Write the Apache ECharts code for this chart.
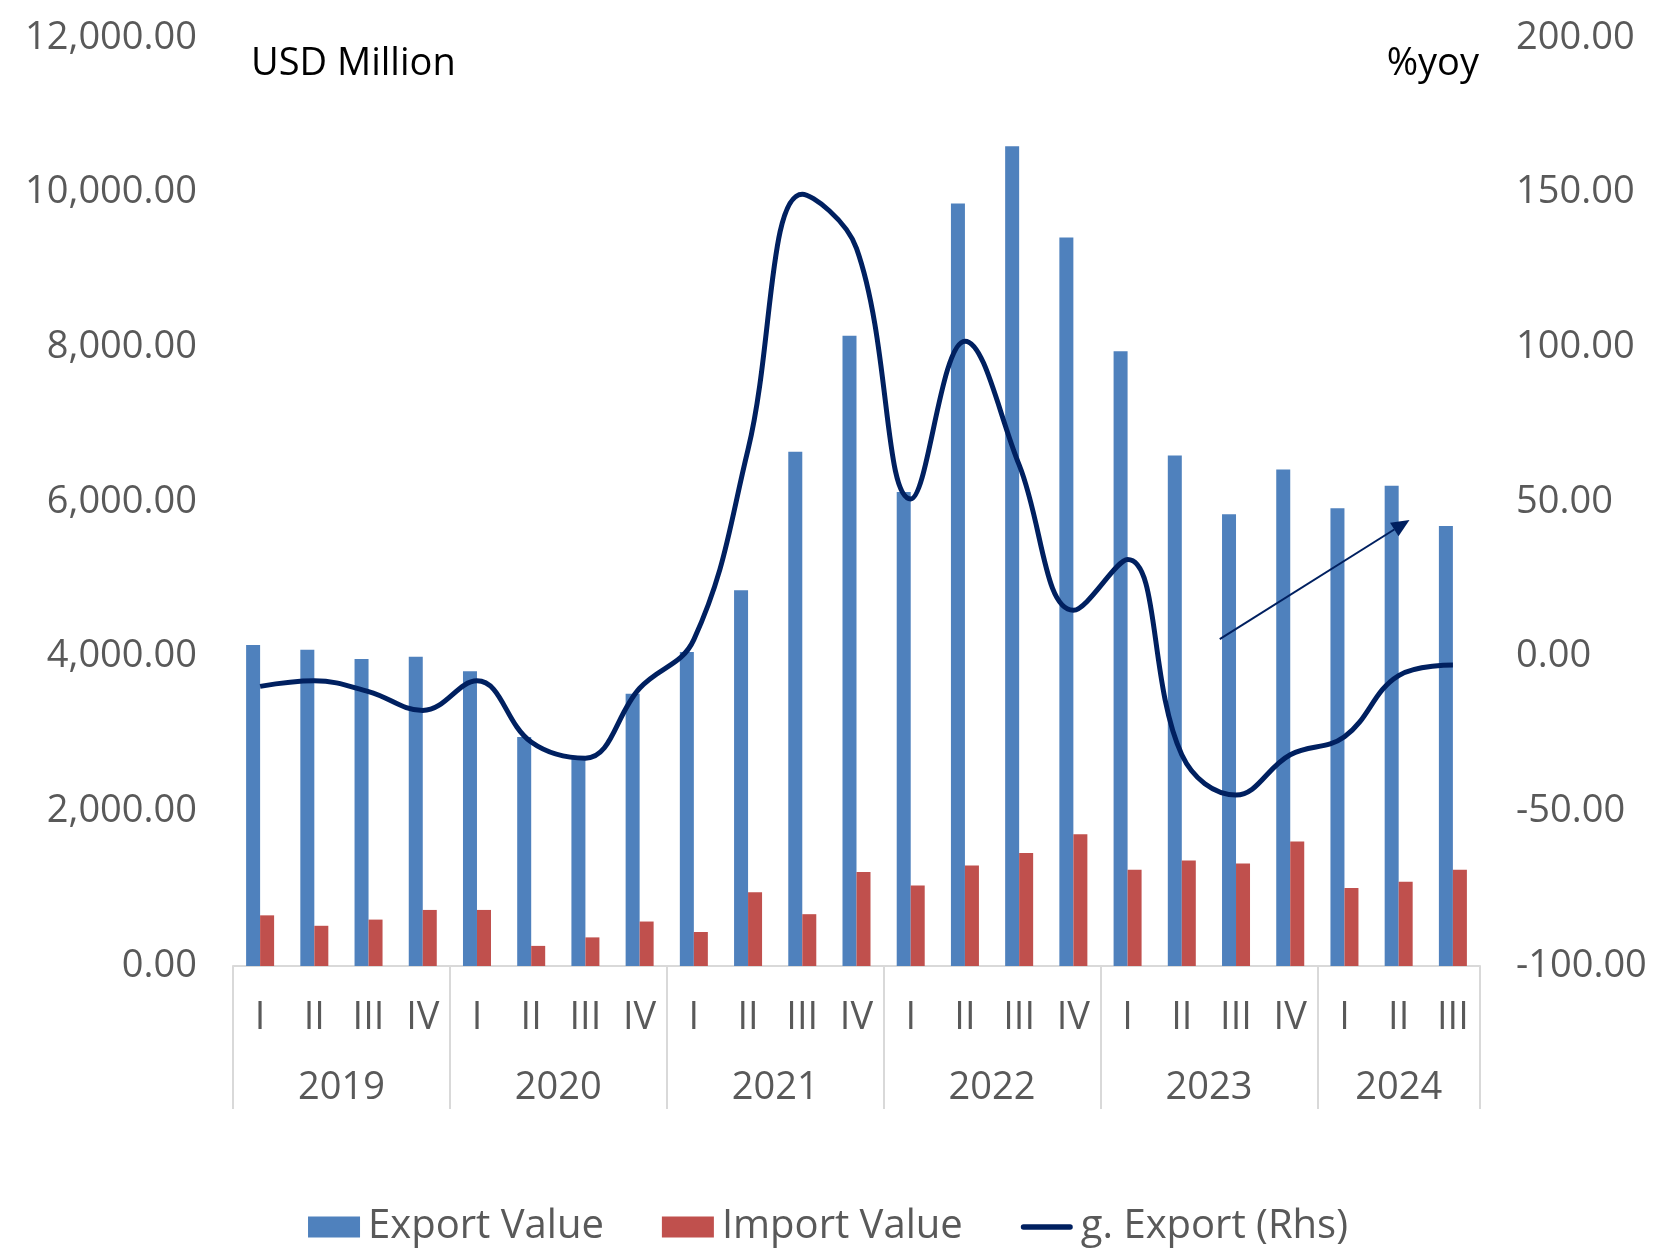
<!DOCTYPE html>
<html>
<head>
<meta charset="utf-8">
<script src="https://cdn.jsdelivr.net/npm/echarts@6/dist/echarts.min.js"></script>
<style>
    html, body { margin: 0; padding: 0; background: #fff; }
    #main { width: 1656px; height: 1248px; }
</style>
</head>
<body>
<div id="main"></div>
<script>
    // quarters per year, 2019 I .. 2024 III
    var quarters = ['I', 'II', 'III', 'IV', 'I', 'II', 'III', 'IV', 'I', 'II', 'III', 'IV',
        'I', 'II', 'III', 'IV', 'I', 'II', 'III', 'IV', 'I', 'II', 'III'];
    var years = ['2019', '2020', '2021', '2022', '2023', '2024'];
    var yearSizes = [4, 4, 4, 4, 4, 3];

    var exportValue = [4150, 4090, 3970, 4000, 3810, 2960, 2700, 3520, 4060, 4860, 6650, 8150,
        6130, 9860, 10600, 9420, 7950, 6600, 5840, 6420, 5920, 6210, 5690];
    var importValue = [655, 520, 600, 725, 725, 260, 370, 575, 440, 955, 670, 1215,
        1040, 1300, 1460, 1705, 1245, 1365, 1325, 1610, 1010, 1090, 1245];
    var exportGrowth = [-9.6, -7.8, -11.3, -17.4, -7.8, -27.6, -32.8, -10.2, 5.5, 67, 149.5, 132,
        51, 102, 62, 15, 31.4, -31.7, -44.7, -31.7, -25.9, -6.1, -2.7];

    // annotation arrow (category index, %yoy)
    var arrowFrom = [17.7, 5.7];
    var arrowTo = [21.2, 44.2];

    var leftTicks = [0, 12000, 2000];
    var rightTicks = [-100, 200, 50];

    var font = '"Open Sans", "Noto Sans", sans-serif';
    var grey = '#595959';

    // year group separators and label centres on a 0..23 value axis
    var bounds = [0];
    var centres = [];
    var yearAt = {};
    yearSizes.forEach(function (n, i) {
        var start = bounds[bounds.length - 1];
        bounds.push(start + n);
        centres.push(start + n / 2);
        yearAt[start + n / 2] = years[i];
    });

    function fmt(v) {
        return v.toLocaleString('en-US', {minimumFractionDigits: 2, maximumFractionDigits: 2});
    }

    var chartDom = document.getElementById('main');
    var myChart = echarts.init(chartDom);
    var option;

    option = {
        animation: false,
        textStyle: {fontFamily: font},
        title: [
            {
                text: 'USD Million',
                left: 246, top: 40,
                textStyle: {fontFamily: font, fontSize: 38, fontWeight: 'normal', color: '#000'}
            },
            {
                text: '%yoy',
                right: 172, top: 40,
                textStyle: {fontFamily: font, fontSize: 38, fontWeight: 'normal', color: '#000'}
            }
        ],
        grid: {
            left: 233,
            right: 176,
            top: 38,
            bottom: 282
        },
        legend: {
            top: 1202,
            left: 'center',
            itemWidth: 52,
            itemHeight: 21,
            itemGap: 58,
            textStyle: {fontFamily: font, fontSize: 40, color: grey, padding: [0, 0, 0, 3]},
            data: [
                {name: 'Export Value', icon: 'rect'},
                {name: 'Import Value', icon: 'rect'},
                {name: 'g. Export (Rhs)', icon: 'path://M3,0 L55,0 A3,3 0 0 1 55,6 L3,6 A3,3 0 0 1 3,0 Z'}
            ]
        },
        xAxis: [
            {
                type: 'category',
                data: quarters,
                axisLine: {onZero: false, lineStyle: {color: '#D9D9D9', width: 2}},
                axisTick: {show: false},
                axisLabel: {
                    color: grey,
                    fontSize: 38,
                    fontFamily: font,
                    margin: 33,
                    interval: 0
                }
            },
            {
                type: 'value',
                min: 0,
                max: quarters.length,
                position: 'bottom',
                axisLine: {show: false, onZero: false},
                splitLine: {show: false},
                axisTick: {
                    show: true,
                    customValues: bounds,
                    length: 143,
                    lineStyle: {color: '#D9D9D9', width: 2}
                },
                axisLabel: {
                    customValues: centres,
                    color: grey,
                    fontSize: 38,
                    fontFamily: font,
                    margin: 103,
                    formatter: function (v) {
                        return yearAt[v] || '';
                    }
                }
            }
        ],
        yAxis: [
            {
                type: 'value',
                min: leftTicks[0],
                max: leftTicks[1],
                interval: leftTicks[2],
                splitLine: {show: false},
                axisLine: {show: false},
                axisTick: {show: false},
                axisLabel: {
                    color: grey, fontSize: 38, fontFamily: font, margin: 36,
                    formatter: fmt
                }
            },
            {
                type: 'value',
                min: rightTicks[0],
                max: rightTicks[1],
                interval: rightTicks[2],
                splitLine: {show: false},
                axisLine: {show: false},
                axisTick: {show: false},
                axisLabel: {
                    color: grey, fontSize: 38, fontFamily: font, margin: 36,
                    formatter: fmt
                }
            }
        ],
        series: [
            {
                name: 'Export Value',
                type: 'bar',
                data: exportValue,
                barWidth: 14,
                barGap: '0%',
                itemStyle: {color: '#4F81BD'}
            },
            {
                name: 'Import Value',
                type: 'bar',
                data: importValue,
                barWidth: 14,
                barGap: '0%',
                itemStyle: {color: '#C0504D'}
            },
            {
                name: 'g. Export (Rhs)',
                type: 'line',
                yAxisIndex: 1,
                data: exportGrowth,
                smooth: 0.4,
                symbol: 'none',
                lineStyle: {color: '#002060', width: 5},
                itemStyle: {color: '#002060'},
                z: 5
            }
        ]
    };

    option && myChart.setOption(option);

    // arrow annotation placed from data coordinates
    function toPx(p) {
        var i0 = Math.floor(p[0]);
        var a = myChart.convertToPixel({seriesIndex: 2}, [i0, p[1]]);
        var b = myChart.convertToPixel({seriesIndex: 2}, [i0 + 1, p[1]]);
        var t = p[0] - i0;
        return [a[0] + (b[0] - a[0]) * t, a[1]];
    }
    var s = toPx(arrowFrom);
    var e = toPx(arrowTo);
    var ang = Math.atan2(e[1] - s[1], e[0] - s[0]);
    var hl = 18, hw = 8;
    var bx = e[0] - hl * Math.cos(ang), by = e[1] - hl * Math.sin(ang);
    myChart.setOption({
        graphic: [
            {
                type: 'line',
                shape: {x1: s[0], y1: s[1], x2: bx, y2: by},
                style: {stroke: '#002060', lineWidth: 2},
                z: 10
            },
            {
                type: 'polygon',
                shape: {
                    points: [
                        [e[0], e[1]],
                        [bx + hw * Math.sin(ang), by - hw * Math.cos(ang)],
                        [bx - hw * Math.sin(ang), by + hw * Math.cos(ang)]
                    ]
                },
                style: {fill: '#002060'},
                z: 10
            }
        ]
    });
</script>
</body>
</html>
